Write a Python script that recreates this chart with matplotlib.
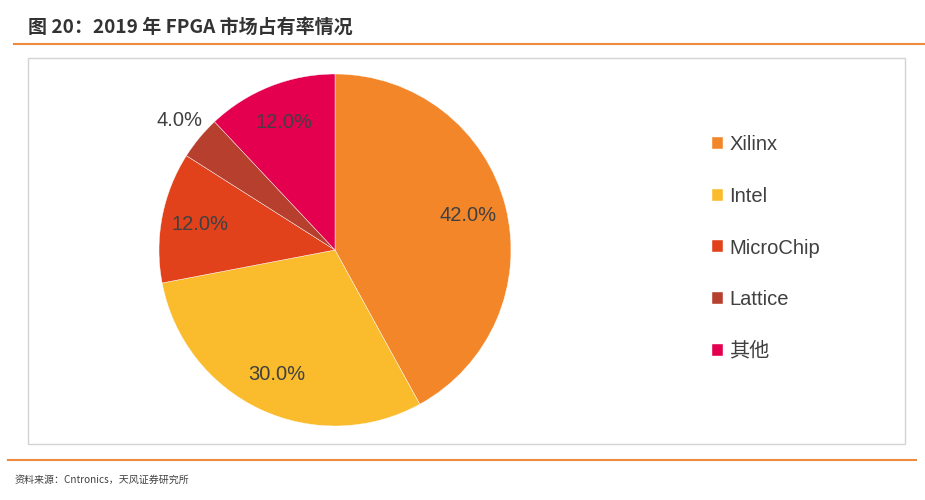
# FPGA market share 2019 pie chart

import matplotlib.pyplot as plt
from matplotlib.lines import Line2D
from matplotlib.patches import Rectangle

plt.rcParams["font.family"] = ["Liberation Sans", "Noto Sans CJK SC", "DejaVu Sans"]

# -----------------------------
# Data
# -----------------------------
vendors = ["Xilinx", "Intel", "MicroChip", "Lattice", "其他"]
shares = [42.0, 30.0, 12.0, 4.0, 12.0]
colors = ["#F4862A", "#FABC2C", "#E1421C", "#B6402D", "#E4004F"]

title = "图 20：2019 年 FPGA 市场占有率情况"
source = "资料来源：Cntronics，天风证券研究所"

ORANGE = "#EE8A3C"
TEXT = "#404040"

# -----------------------------
# Figure
# -----------------------------
fig = plt.figure(figsize=(9.25, 5.0), dpi=100)

# header / footer
fig.text(28 / 925, 1 - 27 / 500, title, fontsize=13.7, fontweight="bold",
         color="#333333", va="center", ha="left",
         family=["Noto Sans CJK SC", "DejaVu Sans"])
fig.add_artist(Line2D([14 / 925, 1.0], [1 - 44 / 500] * 2, color=ORANGE, lw=1.5))
fig.add_artist(Line2D([8 / 925, 916 / 925], [1 - 460 / 500] * 2, color=ORANGE, lw=1.5))
fig.text(15 / 925, 1 - 480 / 500, source, fontsize=7.2, color=TEXT,
         va="center", ha="left", family=["Noto Sans CJK SC", "DejaVu Sans"])

# chart frame
fig.add_artist(Rectangle((28 / 925, 1 - 444 / 500), (905 - 28) / 925, (444 - 58) / 500,
                         fill=False, edgecolor="#D3D3D3", lw=1.0))

# -----------------------------
# Pie
# -----------------------------
r = 176
cx, cy = 335, 250
ax = fig.add_axes([(cx - r) / 925, 1 - (cy + r) / 500, 2 * r / 925, 2 * r / 500])
wedges, texts, autotexts = ax.pie(
    shares,
    colors=colors,
    startangle=90,
    counterclock=False,
    autopct="%.1f%%",
    pctdistance=0.78,
    radius=1.0,
    wedgeprops=dict(edgecolor="white", linewidth=0.3),
    textprops=dict(fontsize=14.5, color=TEXT),
)
ax.set_xlim(-1, 1)
ax.set_ylim(-1, 1)
ax.set_aspect("equal")
ax.axis("off")

# small Lattice slice: label goes outside
x, y = autotexts[3].get_position()
autotexts[3].set_position((x * 1.15 / 0.78, y * 1.15 / 0.78))

# -----------------------------
# Legend
# -----------------------------
fig.legend(
    wedges, vendors,
    loc="center left",
    bbox_to_anchor=(712 / 925, 1 - 248 / 500),
    frameon=False,
    fontsize=14.5,
    labelcolor=TEXT,
    handlelength=0.55,
    handleheight=0.55,
    handletextpad=0.3,
    labelspacing=1.62,
    borderpad=0,
    borderaxespad=0,
)

plt.savefig("out.png", dpi=100)
